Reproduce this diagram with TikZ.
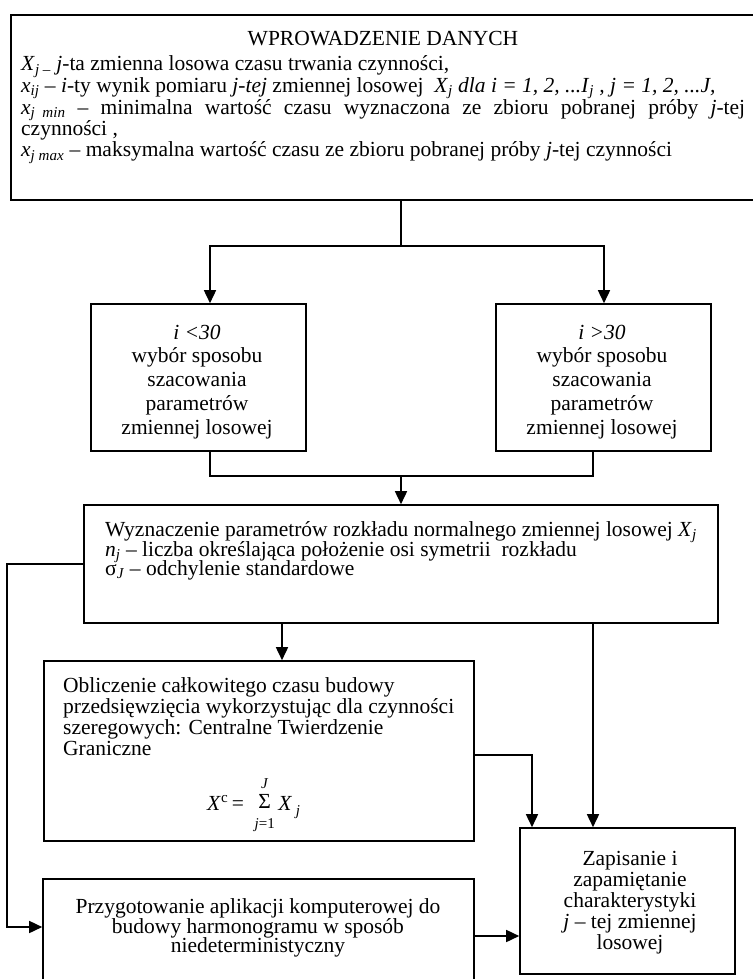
\documentclass[tikz,border=0pt]{standalone}
\usepackage{fontspec}
\setmainfont{Liberation Serif}
\usetikzlibrary{arrows.meta}
\begin{document}
\begin{tikzpicture}[x=1pt,y=-1pt,
  box/.style={draw, line width=1.6pt, inner sep=0pt},
  txt/.style={inner sep=0pt},
  line/.style={inner sep=0pt, anchor=base west, font=\fontsize{21.5}{20.3}\selectfont},
  conn/.style={line width=1.6pt},
  arr/.style={conn, -{Triangle[length=13pt,width=12pt]}}]
\useasboundingbox (0,0) rectangle (752,979);
\lineskiplimit=-50pt
\fontsize{21.5}{20.3}\selectfont
% boxes
\node[box, minimum width=751pt, minimum height=185pt] (top) at (386.5,107.5) {};
\node[box, minimum width=215pt, minimum height=147pt] (L) at (198.5,377.5) {};
\node[box, minimum width=215pt, minimum height=147pt] (R) at (603.5,377.5) {};
\node[box, minimum width=634pt, minimum height=118pt] (M) at (401,564) {};
\node[box, minimum width=430pt, minimum height=180pt] (B3) at (259,751) {};
\node[box, minimum width=431pt, minimum height=106pt] (B4) at (258.5,932) {};
\node[box, minimum width=215pt, minimum height=146pt] (B5) at (627.5,901) {};
% texts of the top box
\node[txt, anchor=base, font=\fontsize{21.5}{20.3}\selectfont] (title) at (383,46) {WPROWADZENIE DANYCH};
\node[line] (t1) at (21,71) {\textit{X}\textsubscript{\textit{j} –} \textit{j}-ta zmienna losowa czasu trwania czynności,};
\node[line] (t2) at (21,92.5) {\textit{x}\textsubscript{\textit{ij}} – \textit{i}-ty wynik pomiaru \textit{j-tej} zmiennej losowej \ \textit{X}\textsubscript{\textit{j}} \textit{dla i = 1, 2, ...I}\textsubscript{\textit{j}}\textit{ , j = 1, 2, ...J,}};
\node[line] (t3) at (21,114) {\makebox[724pt][s]{\textit{x}\textsubscript{\textit{j\ \ min}} – minimalna wartość czasu wyznaczona ze zbioru pobranej próby \textit{j}-tej}};
\node[line] (t4) at (21,135.5) {czynności ,};
\node[line] (t5) at (21,157) {\textit{x}\textsubscript{\textit{j max}} – maksymalna wartość czasu ze zbioru pobranej próby \textit{j}-tej czynności};
% other texts
\node[txt, anchor=north, align=flush center, font=\fontsize{21.5}{23.75}\selectfont] (Lt) at (197,322.4)
 {\strut\textit{i <30}\\wybór sposobu\\szacowania\\parametrów\\zmiennej losowej};
\node[txt, anchor=north, align=flush center, font=\fontsize{21.5}{23.75}\selectfont] (Rt) at (602,322.4)
 {\strut\textit{i >30}\\wybór sposobu\\szacowania\\parametrów\\zmiennej losowej};
\node[txt, anchor=north west, align=flush left, font=\fontsize{21.5}{19.5}\selectfont] (Mt) at (105,521.4)
 {\strut Wyznaczenie parametrów rozkładu normalnego zmiennej losowej \textit{X}\textsubscript{\textit{j}}\\
  \textit{n}\textsubscript{\textit{j}} – liczba określająca położenie osi symetrii \ rozkładu\\
  σ\textsubscript{\textit{J}} – odchylenie standardowe};
\node[txt, anchor=north west, align=flush left, font=\fontsize{21.5}{21}\selectfont] (B3t) at (63,677.3)
 {\strut Obliczenie całkowitego czasu budowy\\przedsięwzięcia wykorzystując dla czynności\\szeregowych: Centralne Twierdzenie\\Graniczne};
\node[txt, anchor=base west, font=\fontsize{21.5}{20}\selectfont] (form) at (207,810)
 {\lineskiplimit=0pt\relax\textit{X}\textsuperscript{c}\,=\ \ \begin{tabular}{@{}c@{}}{\fontsize{15}{20}\selectfont\textit{J}}\\Σ\\{\fontsize{15}{20}\selectfont\textit{j}=1}\end{tabular}\,\textit{X}\,\raisebox{-5pt}{\fontsize{15}{18}\selectfont\textit{j}}};
\node[txt, anchor=north, align=flush center, font=\fontsize{21.5}{19.5}\selectfont] (B4t) at (258,898.4)
 {\strut Przygotowanie aplikacji komputerowej do\\budowy harmonogramu w sposób\\niedeterministyczny};
\node[txt, anchor=north, align=flush center, font=\fontsize{21.5}{21}\selectfont] (B5t) at (630,850.3)
 {\strut Zapisanie i\\zapamiętanie\\charakterystyki\\\textit{j} – tej zmiennej\\losowej};
% connectors
\coordinate (j1) at (401,246);
\coordinate (aL) at ([xshift=11.5pt]L.north);
\coordinate (aR) at ([xshift=0.5pt]R.north);
\draw[conn] (top.south -| j1) -- (j1);
\draw[arr] (j1) -| (aL);
\draw[arr] (j1) -| (aR);
\coordinate (j2) at (401,476);
\coordinate (sL) at ([xshift=11.5pt]L.south);
\coordinate (sR) at ([xshift=-10.5pt]R.south);
\draw[conn] (sL) |- (j2) -| (sR);
\draw[arr] (j2) -- (M.north);
\coordinate (a3) at ([xshift=23pt]B3.north);
\draw[arr] (M.south -| a3) -- (a3);
\coordinate (a5) at ([xshift=-34.5pt]B5.north);
\draw[arr] (M.south -| a5) -- (a5);
\coordinate (b5) at ([xshift=-95.5pt]B5.north);
\coordinate (h3) at (0,755);
\draw[arr] (B3.east |- h3) -| (b5);
\coordinate (h4) at (0,936);
\draw[arr] (B4.east |- h4) -- (B5.west |- h4);
\coordinate (fb1) at (7,564);
\coordinate (fb2) at (7,927);
\draw[arr] (M.west) -- (fb1) -- (fb2) -- (B4.west |- fb2);
\end{tikzpicture}
\end{document}
